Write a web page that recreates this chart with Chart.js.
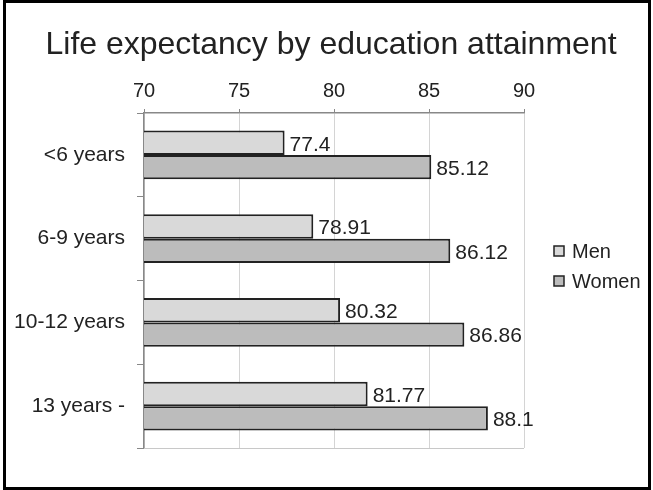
<!DOCTYPE html>
<html>
<head>
<meta charset="utf-8">
<style>
  html, body { margin: 0; padding: 0; background: #fff; }
  canvas { display: block; }
</style>
<script src="https://cdn.jsdelivr.net/npm/chart.js@4/dist/chart.umd.min.js"></script>
</head>
<body>
<canvas id="c" width="653" height="490"></canvas>
<script>
// Education groups and life expectancy (years)
const categories = ['<6 years', '6-9 years', '10-12 years', '13 years -'];
const menValues = [77.4, 78.91, 80.32, 81.77];
const womenValues = [85.12, 86.12, 86.86, 88.1];
const seriesNames = ['Men', 'Women'];
const axisTicks = [70, 75, 80, 85, 90];
const chartTitle = 'Life expectancy by education attainment';

const FONT = '"Liberation Sans", Arial, Helvetica, sans-serif';
const TEXT = '#222';

// Value labels to the right of each bar
const valueLabels = {
  id: 'valueLabels',
  afterDatasetsDraw(chart) {
    const ctx = chart.ctx;
    ctx.save();
    ctx.font = '21px ' + FONT;
    ctx.fillStyle = TEXT;
    ctx.textAlign = 'left';
    ctx.textBaseline = 'middle';
    chart.data.datasets.forEach((ds, i) => {
      chart.getDatasetMeta(i).data.forEach((bar, j) => {
        ctx.fillText(String(ds.data[j]), bar.x + 5, bar.y + 2);
      });
    });
    ctx.restore();
  }
};

// Title, legend, plot frame and outer border
const decorations = {
  id: 'decorations',
  afterDraw(chart) {
    const ctx = chart.ctx;
    const a = chart.chartArea;
    ctx.save();

    // light frame along the bottom of the plot
    ctx.strokeStyle = '#c8c8c8';
    ctx.lineWidth = 1;
    ctx.beginPath();
    ctx.moveTo(a.left, a.bottom + 0.5);
    ctx.lineTo(a.right, a.bottom + 0.5);
    ctx.stroke();

    // title
    ctx.font = '32px ' + FONT;
    ctx.fillStyle = TEXT;
    ctx.textAlign = 'center';
    ctx.textBaseline = 'alphabetic';
    ctx.fillText(chartTitle, 331, 54);

    // legend
    ctx.font = '20px ' + FONT;
    ctx.textAlign = 'left';
    ctx.textBaseline = 'middle';
    chart.data.datasets.forEach((ds, i) => {
      const cy = 251 + i * 30;
      ctx.fillStyle = ds.backgroundColor;
      ctx.fillRect(554, cy - 5, 10, 10);
      ctx.strokeStyle = '#222';
      ctx.lineWidth = 1.5;
      ctx.strokeRect(554, cy - 5, 10, 10);
      ctx.fillStyle = TEXT;
      ctx.fillText(ds.label, 572, cy + 1);
    });

    // outer border
    ctx.strokeStyle = '#000';
    ctx.lineWidth = 3;
    ctx.strokeRect(4.5, 1.5, 645, 487);
    ctx.restore();
  }
};

new Chart(document.getElementById('c'), {
  type: 'bar',
  data: {
    labels: categories,
    datasets: [
      {
        label: seriesNames[0],
        data: menValues,
        backgroundColor: '#d9d9d9',
        borderColor: '#222',
        borderWidth: 2,
        borderSkipped: false
      },
      {
        label: seriesNames[1],
        data: womenValues,
        backgroundColor: '#bcbcbc',
        borderColor: '#222',
        borderWidth: 2,
        borderSkipped: false
      }
    ]
  },
  options: {
    indexAxis: 'y',
    responsive: false,
    animation: false,
    devicePixelRatio: 1,
    layout: { padding: { left: 0, top: 0, right: 129, bottom: 42 } },
    datasets: {
      bar: { categoryPercentage: 0.58, barPercentage: 1.0 }
    },
    plugins: {
      legend: { display: false },
      title: { display: false },
      tooltip: { enabled: false }
    },
    scales: {
      x: {
        position: 'top',
        min: axisTicks[0],
        max: axisTicks[axisTicks.length - 1],
        afterBuildTicks(scale) {
          scale.ticks = axisTicks.map(v => ({ value: v }));
        },
        afterFit(scale) { scale.height = 113; },
        grid: {
          color: '#d4d4d4',
          lineWidth: 1,
          tickColor: '#888',
          tickLength: 4
        },
        border: { color: '#888', width: 1.5 },
        ticks: {
          padding: 6,
          color: TEXT,
          font: { family: FONT, size: 20 }
        }
      },
      y: {
        afterFit(scale) { scale.width = 144; },
        grid: {
          drawOnChartArea: false,
          offset: true,
          tickColor: '#888',
          tickLength: 7
        },
        border: { color: '#888', width: 1.5 },
        ticks: {
          padding: 12,
          color: TEXT,
          font: { family: FONT, size: 21 }
        }
      }
    }
  },
  plugins: [valueLabels, decorations]
});
</script>
</body>
</html>
